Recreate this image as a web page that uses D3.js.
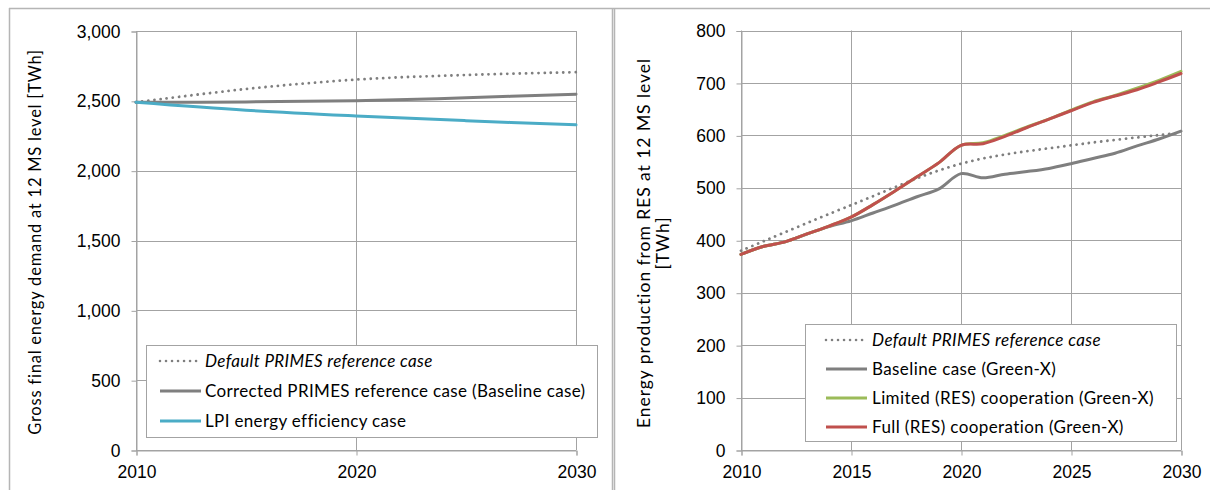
<!DOCTYPE html>
<html>
<head>
<meta charset="utf-8">
<script src="https://cdn.jsdelivr.net/npm/d3@7"></script>
<style>
  html, body { margin: 0; padding: 0; background: #fff; }
  svg { display: block; font-family: Lato, "Noto Sans", sans-serif; }
  .tick text { fill: #000; }
</style>
</head>
<body>
<svg id="chart" width="1210" height="490"></svg>
<script>
// ---- Left panel: gross final energy demand (TWh)
const leftYears = [2010, 2015, 2020, 2025, 2030];
const leftDefault = [2490, 2585, 2652, 2685, 2705];
const leftCorrected = [2490, 2492, 2500, 2522, 2548];
const leftLpi = [2490, 2433, 2392, 2358, 2328];
const leftYTicks = [0, 500, 1000, 1500, 2000, 2500, 3000];
const leftXTicks = [2010, 2020, 2030];
const leftLegend = [
  "Default PRIMES reference case",
  "Corrected PRIMES reference case (Baseline case)",
  "LPI energy efficiency case"
];

// ---- Right panel: energy production from RES (TWh)
const rightYears = [2010, 2011, 2012, 2013, 2014, 2015, 2016, 2017, 2018, 2019, 2020,
                    2021, 2022, 2023, 2024, 2025, 2026, 2027, 2028, 2029, 2030];
const rightDefaultYears = [2010, 2015, 2020, 2025, 2030];
const rightDefault = [380, 467, 546, 581, 605];
const rightBaseline = [373, 388, 397, 412, 426, 437, 452, 467, 483, 498, 527,
                       519, 526, 531, 537, 546, 556, 566, 580, 593, 608];
const rightLimited = [373, 388, 397, 412, 427, 444, 468, 494, 521, 548, 581,
                      586, 600, 616, 631, 648, 664, 676, 690, 705, 722];
const rightFull = [373, 388, 397, 412, 427, 444, 468, 494, 521, 548, 581,
                   584, 598, 615, 631, 647, 663, 675, 687, 702, 718];
const rightYTicks = [0, 100, 200, 300, 400, 500, 600, 700, 800];
const rightXTicks = [2010, 2015, 2020, 2025, 2030];
const rightLegend = [
  "Default PRIMES reference case",
  "Baseline case (Green-X)",
  "Limited (RES) cooperation (Green-X)",
  "Full (RES) cooperation (Green-X)"
];

const GRID = "#a3a3a3";
const FRAME = "#b5b5b5";
const GREY = "#7f7f7f";
const BLUE = "#4bacc6";
const GREEN = "#9bbb59";
const RED = "#c0504d";

const svg = d3.select("#chart");

// outer frame lines of the two panels
svg.append("line").attr("x1", 9).attr("x2", 1210).attr("y1", 8.5).attr("y2", 8.5)
  .attr("stroke", FRAME).attr("stroke-width", 1.5);
svg.append("line").attr("x1", 9.5).attr("x2", 9.5).attr("y1", 8).attr("y2", 490)
  .attr("stroke", FRAME).attr("stroke-width", 1.5);
svg.append("line").attr("x1", 612.5).attr("x2", 612.5).attr("y1", 8).attr("y2", 490)
  .attr("stroke", FRAME).attr("stroke-width", 1.5);
svg.append("line").attr("x1", 614.5).attr("x2", 614.5).attr("y1", 8).attr("y2", 490)
  .attr("stroke", FRAME).attr("stroke-width", 1.5);

function panel(cfg) {
  const x = d3.scaleLinear().domain(cfg.xDomain).range([cfg.left, cfg.right]);
  const y = d3.scaleLinear().domain(cfg.yDomain).range([cfg.bottom, cfg.top]);
  const g = svg.append("g");

  // horizontal gridlines
  g.append("g").selectAll("line").data(cfg.yTicks).join("line")
    .attr("x1", cfg.left).attr("x2", cfg.right)
    .attr("y1", d => Math.round(y(d)) + 0.5).attr("y2", d => Math.round(y(d)) + 0.5)
    .attr("stroke", GRID).attr("stroke-width", 1);
  // vertical gridlines
  g.append("g").selectAll("line").data(cfg.xTicks).join("line")
    .attr("x1", d => Math.round(x(d)) + 0.5).attr("x2", d => Math.round(x(d)) + 0.5)
    .attr("y1", cfg.top).attr("y2", cfg.bottom)
    .attr("stroke", GRID).attr("stroke-width", 1);

  // axes
  const yAxis = d3.axisLeft(y).tickValues(cfg.yTicks).tickFormat(d3.format(","))
    .tickSize(5).tickPadding(11);
  const ya = g.append("g").attr("transform", `translate(${Math.round(cfg.left) + 0.5},0.5)`).call(yAxis);
  const xAxis = d3.axisBottom(x).tickValues(cfg.xTicks).tickFormat(d3.format("d"))
    .tickSize(5).tickPadding(10);
  const xa = g.append("g").attr("transform", `translate(0.5,${Math.round(cfg.bottom) + 0.5})`).call(xAxis);
  [ya, xa].forEach(a => {
    a.select(".domain").attr("stroke", GRID);
    a.selectAll(".tick line").attr("stroke", GRID);
    a.selectAll(".tick text").attr("font-size", 17.5).attr("fill", "#000");
  });

  // axis title
  const t = g.append("text")
    .attr("transform", `translate(${cfg.titleX},${cfg.titleY}) rotate(-90)`)
    .attr("text-anchor", "middle").attr("font-size", cfg.titleSize)
    .attr("letter-spacing", cfg.titleSpacing).attr("fill", "#000");
  cfg.title.forEach((s, i) => {
    t.append("tspan").attr("x", 0).attr("dy", i === 0 ? 0 : 19).text(s);
  });

  // series
  const curve = d3.curveCatmullRom.alpha(0.5);
  cfg.series.forEach(s => {
    const line = d3.line().curve(curve)
      .x((d, i) => x(s.years[i])).y(d => y(d));
    g.append("path").datum(s.values)
      .attr("d", line).attr("fill", "none")
      .attr("stroke", s.color)
      .attr("stroke-width", s.dotted ? 2.8 : 3)
      .attr("stroke-linecap", "round")
      .attr("stroke-linejoin", "round")
      .attr("stroke-dasharray", s.dotted ? "0.01 6.2" : null);
  });

  // legend
  const lg = g.append("g");
  lg.append("rect")
    .attr("x", cfg.legend.x + 0.5).attr("y", cfg.legend.y + 0.5)
    .attr("width", cfg.legend.w).attr("height", cfg.legend.h)
    .attr("fill", "#fff").attr("stroke", GRID).attr("stroke-width", 1);
  cfg.legend.items.forEach((label, i) => {
    const s = cfg.legend.styles[i];
    const cy = cfg.legend.firstY + i * cfg.legend.step;
    lg.append("line")
      .attr("x1", cfg.legend.lineX1).attr("x2", cfg.legend.lineX2)
      .attr("y1", cy).attr("y2", cy)
      .attr("stroke", s.color).attr("stroke-width", s.dotted ? 2.6 : 3)
      .attr("stroke-linecap", s.dotted ? "round" : "butt")
      .attr("stroke-dasharray", s.dotted ? "0.01 6" : null);
    lg.append("text")
      .attr("x", cfg.legend.textX).attr("y", cy).attr("dy", "0.35em")
      .attr("font-size", 17).attr("letter-spacing", cfg.legend.spacing).attr("fill", "#000")
      .attr("font-style", s.dotted ? "italic" : "normal")
      .text(label);
  });
}

panel({
  left: 136, right: 576, top: 31, bottom: 450,
  xDomain: [2010, 2030], yDomain: [0, 3000],
  xTicks: leftXTicks, yTicks: leftYTicks,
  title: ["Gross final energy demand at 12 MS level [TWh]"],
  titleSize: 16.5, titleSpacing: 0.78,
  titleX: 41, titleY: 242,
  series: [
    { years: leftYears, values: leftDefault, color: GREY, dotted: true },
    { years: leftYears, values: leftCorrected, color: GREY },
    { years: leftYears, values: leftLpi, color: BLUE }
  ],
  legend: {
    x: 146, y: 345, w: 451, h: 92,
    lineX1: 160, lineX2: 201, textX: 205, spacing: 0.35,
    firstY: 361, step: 30,
    items: leftLegend,
    styles: [{ color: GREY, dotted: true }, { color: GREY }, { color: BLUE }]
  }
});

panel({
  left: 741, right: 1181, top: 30.5, bottom: 450,
  xDomain: [2010, 2030], yDomain: [0, 800],
  xTicks: rightXTicks, yTicks: rightYTicks,
  title: ["Energy production from RES at 12 MS level", "[TWh]"],
  titleSize: 17.5, titleSpacing: 0.95,
  titleX: 650, titleY: 243,
  series: [
    { years: rightDefaultYears, values: rightDefault, color: GREY, dotted: true },
    { years: rightYears, values: rightBaseline, color: GREY },
    { years: rightYears, values: rightLimited, color: GREEN },
    { years: rightYears, values: rightFull, color: RED }
  ],
  legend: {
    x: 805, y: 324, w: 371, h: 117,
    lineX1: 826, lineX2: 867, textX: 872, spacing: 0.4,
    firstY: 340, step: 29,
    items: rightLegend,
    styles: [{ color: GREY, dotted: true }, { color: GREY }, { color: GREEN }, { color: RED }]
  }
});
</script>
</body>
</html>
